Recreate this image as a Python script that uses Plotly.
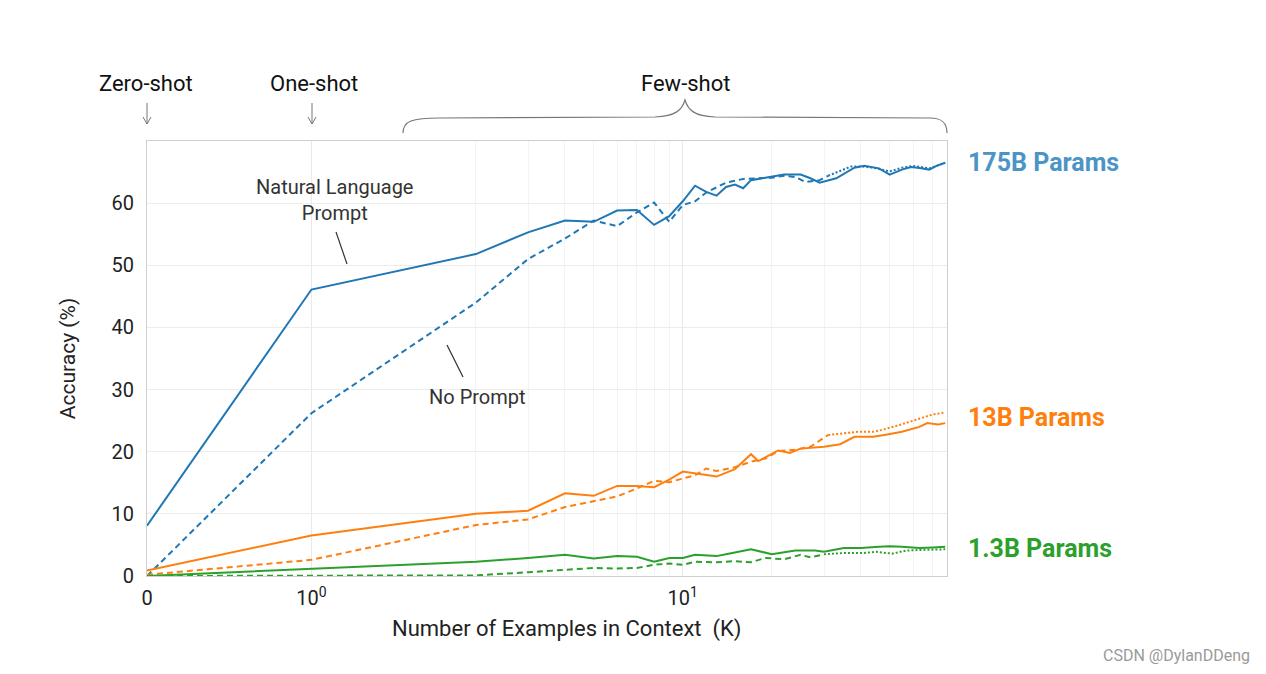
import math
import plotly.graph_objects as go

# ---------------- data ----------------
k_175_nl = [0, 1, 2, 3, 4, 5, 6, 7, 8, 9, 10, 11, 12, 13, 14, 15, 16, 17, 19, 22, 25, 27, 29, 33, 38, 41, 46, 50, 55, 59, 64, 68, 72, 77]
v_175_nl = [8.1, 46.1, 51.8, 55.3, 57.2, 57.0, 58.8, 58.9, 56.5, 57.9, 60.3, 62.8, 61.8, 61.2, 62.6, 63.0, 62.4, 63.7, 64.1, 64.6, 64.6, 64.0, 63.3, 64.0, 65.7, 66.0, 65.6, 64.6, 65.4, 65.8, 65.6, 65.4, 66.0, 66.5]

k_175_np = [0, 1, 2, 3, 4, 5, 6, 7, 8, 9, 10, 11, 12, 14, 16, 18, 20, 22, 24, 26, 29, 31, 34, 37, 40, 44, 47, 50, 55, 60, 64, 68, 72, 77]
v_175_np = [0.0, 26.2, 44.0, 51.0, 54.3, 57.2, 56.3, 58.5, 60.1, 57.0, 59.7, 60.3, 61.7, 63.3, 63.9, 64.0, 64.1, 64.4, 64.2, 63.4, 63.7, 64.4, 65.2, 65.9, 65.9, 65.7, 65.4, 65.1, 65.7, 66.0, 65.8, 65.6, 66.0, 66.5]

k_13_nl = [0, 1, 2, 3, 4, 5, 6, 7, 8, 9, 10, 13, 15, 17, 18, 21, 23, 25, 30, 34, 38, 44, 48, 55, 63, 67, 73, 77]
v_13_nl = [0.9, 6.5, 10.0, 10.5, 13.3, 12.9, 14.5, 14.5, 14.3, 15.5, 16.8, 16.0, 17.2, 19.6, 18.5, 20.2, 19.8, 20.5, 20.8, 21.2, 22.4, 22.4, 22.7, 23.2, 24.0, 24.6, 24.4, 24.6]

k_13_np = [0, 1, 2, 3, 4, 5, 6, 7, 8, 9, 10, 11, 12, 13, 15, 17, 19, 21, 24, 27, 31, 34, 39, 44, 47, 54, 60, 70, 77]
v_13_np = [0.2, 2.6, 8.2, 9.1, 11.1, 12.0, 12.8, 14.1, 15.3, 15.1, 15.7, 16.2, 17.3, 16.9, 17.5, 18.4, 18.9, 20.1, 20.3, 20.8, 22.7, 22.9, 23.2, 23.2, 23.5, 24.3, 25.0, 26.0, 26.3]

k_13b_nl = [0, 1, 2, 3, 4, 5, 6, 7, 8, 9, 10, 11, 13, 14, 17, 20, 24, 28, 30, 35, 40, 46, 50, 55, 63, 70, 77]
v_13b_nl = [0.0, 1.2, 2.3, 2.9, 3.4, 2.8, 3.2, 3.1, 2.3, 2.9, 2.9, 3.4, 3.2, 3.5, 4.3, 3.5, 4.1, 4.1, 3.9, 4.5, 4.5, 4.7, 4.8, 4.7, 4.5, 4.6, 4.7]

k_13b_np = [0, 1, 2, 3, 4, 5, 6, 7, 8, 9, 10, 11, 13, 15, 17, 19, 22, 25, 27, 30, 35, 41, 45, 51, 57, 64, 77]
v_13b_np = [0.0, 0.1, 0.1, 0.6, 1.0, 1.3, 1.2, 1.3, 1.8, 2.0, 1.8, 2.3, 2.2, 2.4, 2.2, 2.9, 2.7, 3.4, 3.0, 3.5, 3.7, 3.7, 3.9, 3.6, 4.1, 4.2, 4.3]

x_major_ticks = [0, 1, 10]
x_major_labels = ["0", "10<sup>0</sup>", "10<sup>1</sup>"]
x_minor_ticks = [2, 3, 4, 5, 6, 7, 8, 9, 20, 30, 40, 50, 60, 70]
y_ticks = [0, 10, 20, 30, 40, 50, 60]
model_labels = ["175B Params", "13B Params", "1.3B Params"]
colors = ["#1f77b4", "#ff7f0e", "#2ca02c"]
label_colors = ["#4b94c6", "#ff7f0e", "#2ca02c"]
DOT_FROM = 30  # "no prompt" curves are drawn dotted from this K on

# ---------------- symlog scale (linthresh=2, linscale=1) ----------------
LT = 2.0
LS = 1.0 / (1 - 1 / 10.0)


def symlog(k):
    if k <= LT:
        return k * LS
    return LT * (LS + math.log10(k / LT))


X_MAX = 78.1

fig = go.Figure()


def add_line(ks, vs, color, dash):
    fig.add_trace(go.Scatter(x=[symlog(k) for k in ks], y=vs, mode="lines",
                             line=dict(color=color, width=2, dash=dash),
                             showlegend=False, hoverinfo="skip"))


series = [
    (k_175_nl, v_175_nl, k_175_np, v_175_np, colors[0]),
    (k_13_nl, v_13_nl, k_13_np, v_13_np, colors[1]),
    (k_13b_nl, v_13b_nl, k_13b_np, v_13b_np, colors[2]),
]
for knl, vnl, knp, vnp, c in series:
    i_split = next(i for i, k in enumerate(knp) if k >= DOT_FROM)
    add_line(knp[:i_split + 1], vnp[:i_split + 1], c, "6px,4px")
    add_line(knp[i_split:], vnp[i_split:], c, "2px,2px")
    add_line(knl, vnl, c, "solid")

# ---------------- layout ----------------
OFF = 8  # page body margin
L, R, T, B = 147, 947, 141, 576   # plot area in page pixels
W, H = 1266 - 2 * OFF, 674 - 2 * OFF
FONT = "Roboto, 'Open Sans', sans-serif"


def px_x(px):
    return (px - L) / (R - L)


def px_y(py):
    return (B - py) / (B - T)


fig.update_layout(
    width=W, height=H,
    margin=dict(l=L - OFF, r=W - (R - OFF), t=T - OFF, b=H - (B - OFF), pad=0),
    plot_bgcolor="white", paper_bgcolor="white",
    font=dict(family=FONT, color="#222222"),
    xaxis=dict(
        range=[0, symlog(X_MAX)],
        tickmode="array",
        tickvals=[symlog(k) for k in x_major_ticks],
        ticktext=x_major_labels,
        tickfont=dict(size=20, color="#222222"),
        showgrid=True, gridcolor="#e9e9e9", gridwidth=1,
        zeroline=False,
        showline=True, linecolor="#cfcfcf", linewidth=1, mirror=True,
        ticks="outside", ticklen=4, tickcolor="white",
        minor=dict(tickmode="array", tickvals=[symlog(k) for k in x_minor_ticks],
                   showgrid=True, gridcolor="#f3f3f3", gridwidth=1, ticks=""),
    ),
    yaxis=dict(
        range=[0, 70],
        tickmode="array", tickvals=y_ticks,
        tickfont=dict(size=20, color="#222222"),
        showgrid=True, gridcolor="#ececec", gridwidth=1,
        zeroline=False,
        showline=True, linecolor="#cfcfcf", linewidth=1, mirror=True,
        ticks="outside", ticklen=8, tickcolor="white",
        title=dict(text="Accuracy (%)", font=dict(size=21, color="#222222"), standoff=30),
    ),
)

annotations = []
annotations.append(dict(x=px_x(566), y=px_y(629), xref="paper", yref="paper",
                        text="Number of Examples in Context  (K)", showarrow=False,
                        font=dict(size=22, color="#222222"), xanchor="center", yanchor="middle"))
for txt, px in [("Zero-shot", 146), ("One-shot", 314), ("Few-shot", 685)]:
    annotations.append(dict(x=px_x(px), y=px_y(83), xref="paper", yref="paper", text=txt,
                            showarrow=False, font=dict(size=22, color="#111111"),
                            xanchor="center", yanchor="middle"))
annotations.append(dict(x=px_x(334), y=px_y(200), xref="paper", yref="paper",
                        text="Natural Language<br>Prompt", showarrow=False,
                        font=dict(size=20, color="#333333"), xanchor="center", yanchor="middle"))
annotations.append(dict(x=px_x(477), y=px_y(397), xref="paper", yref="paper",
                        text="No Prompt", showarrow=False,
                        font=dict(size=20, color="#333333"), xanchor="center", yanchor="middle"))
for txt, py, c in zip(model_labels, [162, 417, 548], label_colors):
    annotations.append(dict(x=px_x(966), y=px_y(py), xref="paper", yref="paper",
                            text="<b>%s</b>" % txt, showarrow=False,
                            font=dict(size=25, color=c), xanchor="left", yanchor="middle"))
# watermark
annotations.append(dict(x=px_x(1252), y=px_y(655), xref="paper", yref="paper",
                        text="CSDN @DylanDDeng", showarrow=False,
                        font=dict(size=16, color="#9a9a9a"), xanchor="right", yanchor="middle"))
fig.update_layout(annotations=annotations)

shapes = []
grey = "#777777"
for (x0, y0, x1, y1) in [(336, 232, 347, 264), (447, 345, 463, 377)]:
    shapes.append(dict(type="line", xref="paper", yref="paper",
                       x0=px_x(x0), y0=px_y(y0), x1=px_x(x1), y1=px_y(y1),
                       line=dict(color="#333333", width=1.2)))
for ax in [147, 312]:
    shapes.append(dict(type="line", xref="paper", yref="paper",
                       x0=px_x(ax), y0=px_y(103), x1=px_x(ax), y1=px_y(124),
                       line=dict(color=grey, width=1)))
    shapes.append(dict(type="path", xref="paper", yref="paper",
                       path="M %f,%f L %f,%f L %f,%f" % (px_x(ax - 4), px_y(117), px_x(ax), px_y(124),
                                                        px_x(ax + 4), px_y(117)),
                       line=dict(color=grey, width=1)))


def P(x, y):
    return "%f,%f" % (px_x(x), px_y(y))


brace = ("M " + P(403, 133) + " C " + P(403, 121) + " " + P(412, 118) + " " + P(440, 118)
         + " L " + P(655, 117) + " C " + P(676, 116) + " " + P(682, 110) + " " + P(685, 100)
         + " C " + P(688, 110) + " " + P(694, 116) + " " + P(715, 117)
         + " L " + P(930, 118) + " C " + P(940, 118) + " " + P(947, 121) + " " + P(947, 133))
shapes.append(dict(type="path", xref="paper", yref="paper", path=brace,
                   line=dict(color=grey, width=1.2)))
fig.update_layout(shapes=shapes)

fig.write_html("out.html")
